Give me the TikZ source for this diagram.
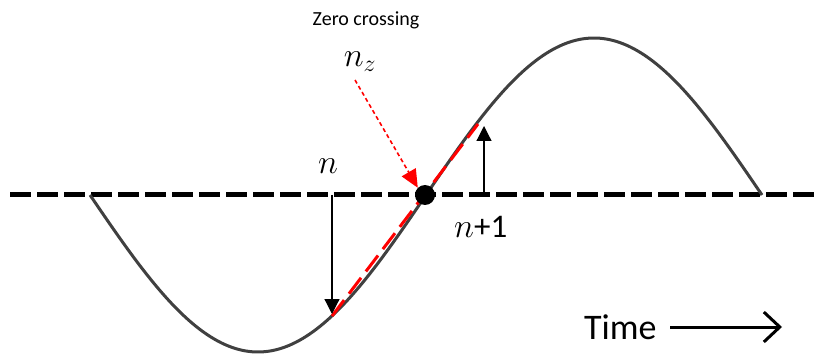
\documentclass[tikz,border=0pt]{standalone}
\usepackage{fix-cm}
\usepackage{fontspec}
\setmainfont{Carlito}
\usetikzlibrary{arrows.meta}
\begin{document}
\begin{tikzpicture}[x=1pt,y=-1pt,
  axisline/.style={line width=5pt, dash pattern=on 21pt off 6pt},
  wave/.style={line width=3pt, draw=black!75},
  secant/.style={line width=3pt, red, dash pattern=on 20pt off 8pt},
  marker/.style={line width=1.2pt, -{Triangle[length=15pt,width=15pt]}},
  lbl/.style={inner sep=0pt}]
\useasboundingbox (0,0) rectangle (819,358);
\draw[axisline] (10,195) -- (819,195);
\draw[wave, domain=90:762, samples=200, smooth] plot (\x,{195+157*sin(0.535714*(\x-90))});
\coordinate (n) at (332,195);
\coordinate (p) at (332,316);
\coordinate (n1) at (484,195);
\coordinate (q) at (478,124);
\coordinate (qa) at (484,126);
\draw[secant] (p) -- (q);
\draw[marker] (n) -- (332,314);
\draw[marker] (n1) -- (qa);
\node[circle, fill=black, minimum size=20pt, inner sep=0pt] (zc) at (425,195) {};
\node[lbl, font=\fontsize{20}{24}\selectfont] (zt) at (366,20) {Zero crossing};
\node[lbl, font=\fontsize{34}{40}\selectfont] (nz) at (360,62) {$n_z$};
\coordinate (a0) at (355,80);
\draw[red, line width=1.6pt, dash pattern=on 4pt off 3pt, -{Triangle[length=18pt,width=16pt]}] (a0) -- (zc.north west);
\node[lbl, font=\fontsize{34}{40}\selectfont] (nl) at (328,166) {$n$};
\node[lbl, font=\fontsize{34}{40}\selectfont, anchor=west] (n1l) at (454,227) {$n$\fontsize{33}{36}\selectfont+1};
\node[lbl, font=\fontsize{36}{40}\selectfont, anchor=west] (time) at (584,327) {Time};
\coordinate (tend) at (782,327);
\draw[line width=3pt, -{Straight Barb[length=16pt,width=30pt,line width=3pt]}] (670,327) -- (tend);
\end{tikzpicture}
\end{document}
